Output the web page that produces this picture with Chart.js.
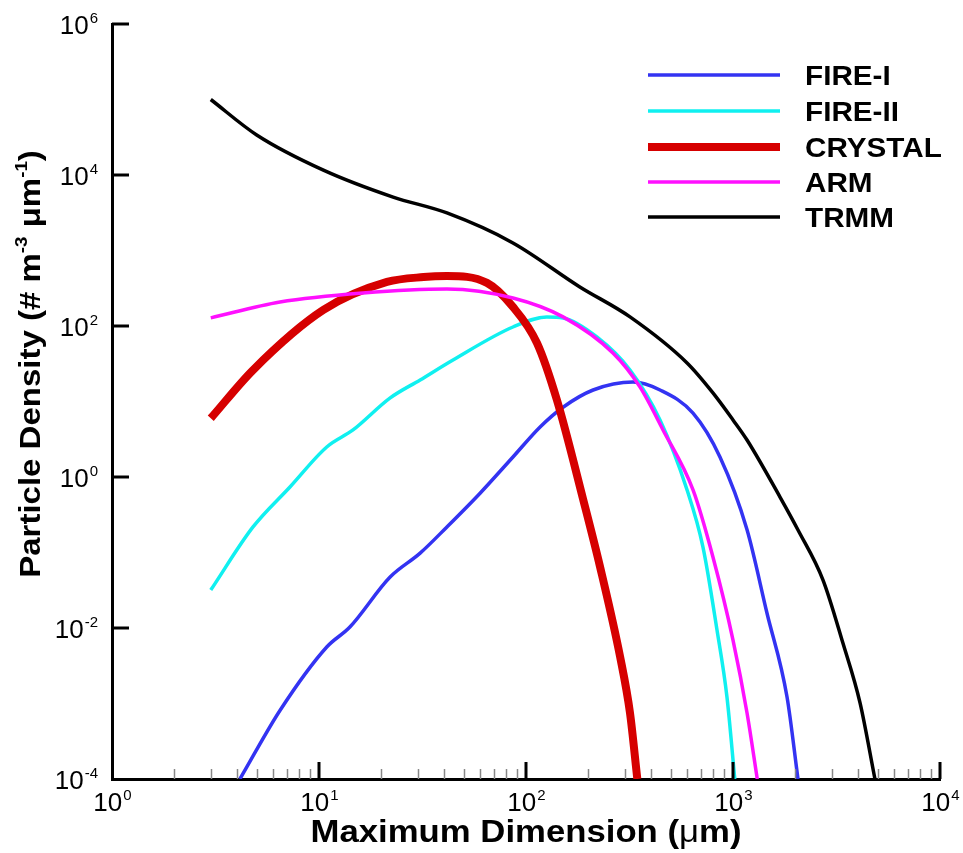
<!DOCTYPE html>
<html>
<head>
<meta charset="utf-8">
<script src="https://cdn.jsdelivr.net/npm/chart.js@4.4.1/dist/chart.umd.min.js"></script>
<style>
html, body { margin: 0; padding: 0; background: #fff; }
#wrap { width: 963px; height: 853px; }
</style>
</head>
<body>
<div id="wrap"><canvas id="graphCanvas" width="963" height="853"></canvas></div>
<script>
// values (x: maximum dimension in um, y: # m-3 um-1)
var fire1X = [4.15, 6.5, 10.9, 14.1, 22, 30.8, 41.5, 60, 86.5, 117, 151, 211, 329, 444, 641, 865, 1169, 1459, 1824, 2060];
var fire1Y = [1e-4, 8.2e-4, 0.0056, 0.0103, 0.047, 0.098, 0.218, 0.61, 1.84, 4.6, 8.4, 14.2, 18.1, 14.2, 7.0, 1.84, 0.2, 0.0158, 0.00122, 1e-4];

var fire2X = [3, 4.8, 7.24, 10.9, 14.6, 22, 30.8, 44.4, 86.5, 126, 151, 220, 318, 444, 600, 716, 837, 935, 1020];
var fire2Y = [0.0318, 0.218, 0.738, 2.5, 4.2, 11.1, 19.3, 35.5, 97, 132, 128, 71.5, 26.1, 5.69, 0.673, 0.118, 0.0094, 0.00122, 1e-4];

var crystalX = [3, 4.8, 10.5, 21.3, 32, 41.5, 64.8, 86.5, 113, 141, 189, 228, 285, 318, 345];
var crystalY = [6.0, 26.1, 163, 383, 445, 459, 372, 179, 59.6, 10.5, 0.5, 0.0643, 0.00413, 7.5e-4, 1e-4];

var armX = [3, 6.48, 16.3, 41.5, 86.5, 151, 263, 355, 459, 641, 800, 1000, 1169, 1310];
var armY = [128, 208, 274, 309, 235, 132, 43.9, 15.6, 4.2, 0.673, 0.0871, 0.00693, 7.5e-4, 1e-4];

var trmmX = [3, 5, 10.5, 22.8, 41.5, 86.5, 182, 318, 600, 800, 1000, 1169, 1687, 2061, 2722, 3396, 4109, 4850];
var trmmY = [1.0e5, 3.39e4, 1.16e4, 5.1e3, 3.14e3, 1.26e3, 329, 132, 32.4, 13.0, 5.7, 3.09, 0.543, 0.199, 0.0432, 0.00632, 0.00102, 1e-4];

var seriesNames = ['FIRE-I', 'FIRE-II', 'CRYSTAL', 'ARM', 'TRMM'];
var xMajorExp = [0, 1, 2, 3, 4];
var yMajorExp = [6, 4, 2, 0, -2, -4];

function pts(xs, ys) {
    var out = [];
    for (var i = 0; i < xs.length; i++) out.push({x: xs[i], y: ys[i]});
    return out;
}

function stretchText(ctx, s, x, y, font, align, sx) {
    ctx.save();
    ctx.font = font;
    ctx.translate(x, y);
    ctx.scale(sx, 1);
    ctx.textAlign = align;
    ctx.fillText(s, 0, 0);
    ctx.restore();
}

// parts: [{t, font, dy}] drawn one after the other, centred on 0
function richCentered(ctx, parts, sx) {
    var total = 0, i;
    for (i = 0; i < parts.length; i++) {
        ctx.font = parts[i].font;
        parts[i].w = ctx.measureText(parts[i].t).width;
        total += parts[i].w;
    }
    ctx.save();
    ctx.scale(sx, 1);
    ctx.textAlign = 'left';
    var cx = -total / 2;
    for (i = 0; i < parts.length; i++) {
        ctx.font = parts[i].font;
        ctx.fillText(parts[i].t, cx, parts[i].dy || 0);
        cx += parts[i].w;
    }
    ctx.restore();
}

var decor = {
    id: 'decor',
    afterDraw: function(chart) {
        var ctx = chart.ctx, xs = chart.scales.x, ys = chart.scales.y, a = chart.chartArea;
        var baseFont = '"Liberation Sans", Arial, Helvetica, sans-serif';
        ctx.save();
        ctx.fillStyle = '#000';
        ctx.lineCap = 'butt';

        // x minor ticks
        ctx.strokeStyle = '#888';
        ctx.lineWidth = 1.5;
        for (var d = 0; d < 4; d++) {
            for (var m = 2; m <= 9; m++) {
                var px = Math.round(xs.getPixelForValue(m * Math.pow(10, d))) + 0.5;
                ctx.beginPath();
                ctx.moveTo(px, a.bottom);
                ctx.lineTo(px, a.bottom - 10);
                ctx.stroke();
            }
        }
        // x major ticks + labels
        ctx.strokeStyle = '#000';
        ctx.lineWidth = 3;
        xMajorExp.forEach(function(e) {
            var px = xs.getPixelForValue(Math.pow(10, e));
            if (e > 0) {
                ctx.beginPath();
                ctx.moveTo(px, a.bottom);
                ctx.lineTo(px, a.bottom - 17);
                ctx.stroke();
            }
            ctx.font = '26px ' + baseFont;
            var w1 = ctx.measureText('10').width;
            ctx.font = '15px ' + baseFont;
            var w2 = ctx.measureText(String(e)).width;
            var x0 = px - (w1 + w2) / 2;
            ctx.textAlign = 'left';
            ctx.font = '26px ' + baseFont;
            ctx.fillText('10', x0, a.bottom + 32);
            ctx.font = '15px ' + baseFont;
            ctx.fillText(String(e), x0 + w1 + 1, a.bottom + 21);
        });
        // y major ticks + labels
        yMajorExp.forEach(function(e) {
            var py = ys.getPixelForValue(Math.pow(10, e));
            if (e > -4) {
                ctx.beginPath();
                ctx.moveTo(a.left, py);
                ctx.lineTo(a.left + 17, py);
                ctx.stroke();
            }
            ctx.font = '15px ' + baseFont;
            var w2 = ctx.measureText(String(e)).width;
            var right = a.left - 14;
            ctx.textAlign = 'right';
            ctx.fillText(String(e), right, py - 1);
            ctx.font = '26px ' + baseFont;
            ctx.fillText('10', right - w2 - 1, py + 10);
        });

        // axis titles
        ctx.save();
        ctx.translate((a.left + a.right) / 2, 842);
        richCentered(ctx, [
            {t: 'Maximum Dimension (', font: 'bold 31px ' + baseFont},
            {t: '\u03bc', font: '31px ' + baseFont},
            {t: 'm)', font: 'bold 31px ' + baseFont}
        ], 1.12);
        ctx.restore();

        ctx.save();
        ctx.translate(40, 364);
        ctx.rotate(-Math.PI / 2);
        richCentered(ctx, [
            {t: 'Particle Density (# m', font: 'bold 30px ' + baseFont},
            {t: '-3', font: 'bold 17px ' + baseFont, dy: -13},
            {t: ' \u03bcm', font: 'bold 30px ' + baseFont},
            {t: '-1', font: 'bold 17px ' + baseFont, dy: -13},
            {t: ')', font: 'bold 30px ' + baseFont}
        ], 1.1);
        ctx.restore();

        // legend
        var rowY = [75, 111, 147, 182, 217];
        chart.data.datasets.forEach(function(ds, i) {
            ctx.strokeStyle = ds.borderColor;
            ctx.lineWidth = ds.borderWidth;
            ctx.beginPath();
            ctx.moveTo(648, rowY[i]);
            ctx.lineTo(780, rowY[i]);
            ctx.stroke();
            ctx.fillStyle = '#000';
            stretchText(ctx, ds.label, 805, rowY[i] + 10, 'bold 28px ' + baseFont, 'left', 1.06);
        });
        ctx.restore();
    }
};

function lineSet(i, xs, ys, color, width, order) {
    return {
        label: seriesNames[i],
        data: pts(xs, ys),
        borderColor: color,
        backgroundColor: color,
        borderWidth: width,
        pointRadius: 0,
        fill: false,
        cubicInterpolationMode: 'monotone',
        clip: 0,
        order: order
    };
}

new Chart(document.getElementById('graphCanvas'), {
    type: 'line',
    data: {
        datasets: [
            lineSet(0, fire1X, fire1Y, '#3333f2', 3.5, 5),
            lineSet(1, fire2X, fire2Y, '#10f0f0', 3.5, 4),
            lineSet(2, crystalX, crystalY, '#d60000', 8, 3),
            lineSet(3, armX, armY, '#ff10ff', 3.5, 2),
            lineSet(4, trmmX, trmmY, '#000000', 3.5, 1)
        ]
    },
    options: {
        responsive: false,
        animation: false,
        events: [],
        layout: {padding: {left: 0, right: 23, top: 24, bottom: 0}},
        plugins: {legend: {display: false}, tooltip: {enabled: false}},
        scales: {
            x: {
                type: 'logarithmic',
                position: 'bottom',
                min: 1,
                max: 10000,
                grid: {display: false},
                ticks: {display: false},
                border: {display: true, color: '#000', width: 3},
                afterFit: function(s) { s.height = 74; }
            },
            y: {
                type: 'logarithmic',
                position: 'left',
                min: 1e-4,
                max: 1e6,
                grid: {display: false},
                ticks: {display: false},
                border: {display: true, color: '#000', width: 3},
                afterFit: function(s) { s.width = 112; }
            }
        }
    },
    plugins: [decor]
});
</script>
</body>
</html>
